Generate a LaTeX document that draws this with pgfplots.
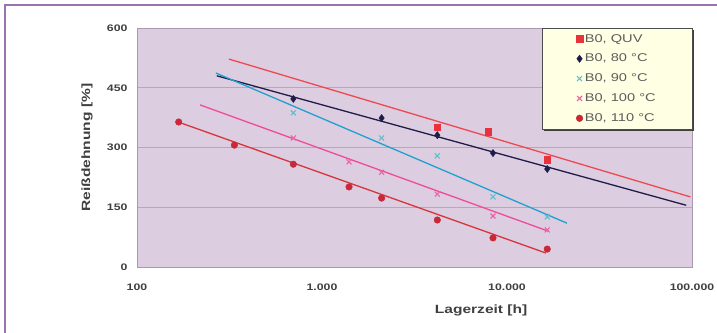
\documentclass[border=0pt]{standalone}
\usepackage{fontspec}
\setmainfont[FakeStretch=1.3]{Liberation Sans}
\usepackage{pgfplots}
\pgfplotsset{compat=1.18}
\usetikzlibrary{shadows}
\definecolor{framec}{HTML}{9A72B0}
\definecolor{bgc}{HTML}{DDCDE0}
\definecolor{gridc}{HTML}{B8A6BE}
\definecolor{axisc}{HTML}{A898B0}
\definecolor{legbg}{HTML}{FFFFE3}
\definecolor{txt}{HTML}{404040}
\definecolor{quvm}{HTML}{E8323E}
\definecolor{quvl}{HTML}{F04850}
\definecolor{navy}{HTML}{1E1C48}
\definecolor{cyanm}{HTML}{5CC0C8}
\definecolor{cyanl}{HTML}{20A0D0}
\definecolor{pinkm}{HTML}{F060A8}
\definecolor{pinkl}{HTML}{EE4C98}
\definecolor{redm}{HTML}{C82838}
\definecolor{redl}{HTML}{D8343C}
\begin{document}
\begin{tikzpicture}[x=1bp,y=1bp]
\path[use as bounding box] (0,0) rectangle (717,332);
\fill[white] (0,0) rectangle (717,332);
\draw[framec, line width=2bp] (5,-3) -- (5,327) -- (720,327);
\begin{axis}[
  at={(137bp,65bp)}, anchor=south west, scale only axis,
  width=555bp, height=239bp,
  xmode=log, xmin=100, xmax=100000, ymin=0, ymax=600,
  xtick={100,1000,10000,100000}, xticklabels={100,1.000,10.000,100.000},
  ytick={0,150,300,450,600},
  /pgf/number format/assume math mode=true,
  xminorticks=false,
  ymajorgrids, grid style={color=gridc, line width=0.8bp},
  axis background/.style={fill=bgc},
  axis line style={color=axisc, line width=0.8bp},
  major tick length=0pt,
  ticklabel style={font=\bfseries\fontsize{9.5}{11}\selectfont, text=txt},
  xticklabel style={anchor=center, yshift=-20bp},
  yticklabel style={anchor=east, xshift=-6bp},
  xlabel={Lagerzeit [h]}, ylabel={Reißdehnung [\%]},
  every axis x label/.style={at={(axis description cs:0.62,0)}, anchor=center, yshift=-43bp,
    font=\bfseries\fontsize{12}{14}\selectfont, text=txt},
  every axis y label/.style={at={(axis description cs:0,0.5)}, anchor=center, xshift=-50bp, rotate=90,
    font=\bfseries\fontsize{12}{14}\selectfont, text=txt},
  legend style={at={(1,1)}, anchor=north east, fill=legbg, draw=gray!60!black, line width=0.5bp,
    font=\fontsize{11.3}{13}\selectfont, text=txt!85!white, inner xsep=34bp, inner ysep=4bp, row sep=6.5bp,
    drop shadow={shadow xshift=2bp, shadow yshift=-2bp, fill=gray!50!black, opacity=1}},
  legend cell align=left,
  legend image code/.code={\draw[mark repeat=2,mark phase=2,#1] plot coordinates {(0cm,0cm) (0.13cm,0cm) (0.26cm,0cm)};},
]
% trend lines
\addplot[quvl, line width=1.3bp, forget plot] coordinates {(314,522) (98000,176)};
\addplot[navy, line width=1.3bp, forget plot] coordinates {(270,480) (93000,155)};
\addplot[cyanl, line width=1.3bp, forget plot] coordinates {(267,487) (21100,110)};
\addplot[pinkl, line width=1.3bp, forget plot] coordinates {(219,407) (16700,90)};
\addplot[redl, line width=1.3bp, forget plot] coordinates {(167,364) (16250,35)};
% data
\addplot[only marks, mark=square*, mark size=3.3bp, color=quvm] coordinates {(4200,351) (7900,339) (16500,269)};
\addlegendentry{B0, QUV}
\addplot[only marks, mark=diamond*, mark size=3.6bp, color=navy] coordinates {(700,422) (2100,374) (4200,331) (8400,286) (16500,246)};
\addlegendentry{B0, 80 °C}
\addplot[only marks, mark=x, mark size=3.5bp, line width=1.1bp, color=cyanm] coordinates {(700,387) (2100,324) (4200,279) (8400,176) (16500,126)};
\addlegendentry{B0, 90 °C}
\addplot[only marks, mark=x, mark size=3.5bp, line width=1.1bp, color=pinkm] coordinates {(700,324) (1400,264) (2100,238) (4200,183) (8400,128) (16500,93)};
\addlegendentry{B0, 100 °C}
\addplot[only marks, mark=*, mark size=3.3bp, color=redm] coordinates {(168,364) (336,306) (700,258) (1400,201) (2100,173) (4200,118) (8400,73) (16500,45)};
\addlegendentry{B0, 110 °C}
\end{axis}
\end{tikzpicture}
\end{document}
